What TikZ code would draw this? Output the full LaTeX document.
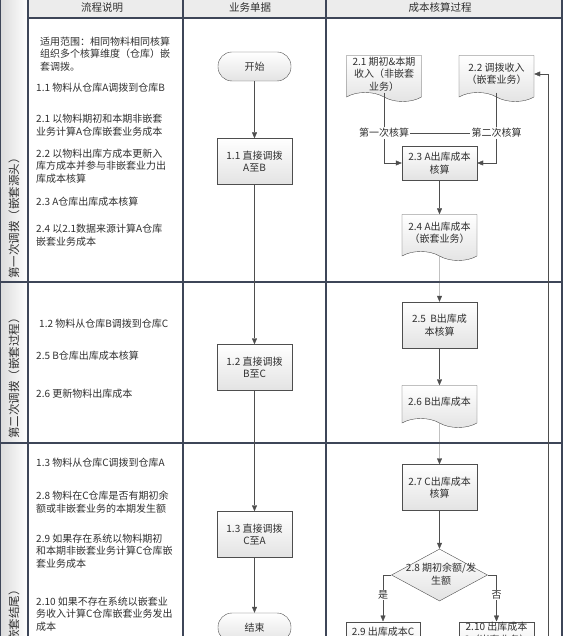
\documentclass[tikz,border=0pt]{standalone}
\usepackage{fontspec}
\setmainfont{Noto Sans CJK SC}
\usetikzlibrary{arrows.meta,shapes.geometric,shapes.symbols}
\definecolor{laneline}{RGB}{62,70,88}
\definecolor{flowline}{RGB}{78,78,78}
\definecolor{txt}{RGB}{48,48,48}
\definecolor{headfill}{RGB}{236,236,236}

\begin{document}
\begin{tikzpicture}[x=1pt,y=-1pt,font=\fontsize{10}{12.5}\selectfont,
  lane/.style={draw=laneline,line width=1.1pt},
  note/.style={anchor=west,align=left,inner sep=0pt,text=txt},
  box/.style={draw=flowline,top color=white,bottom color=gray!22,minimum width=75pt,
    minimum height=46pt,align=center,inner sep=1pt,text=txt},
  doc/.style={tape,tape bend top=none,tape bend bottom=out and in,tape bend height=9pt,
    draw=flowline,top color=white,bottom color=gray!22,minimum width=75pt,
    minimum height=46pt,align=center,inner sep=1pt,text=txt},
  term/.style={draw=flowline,rounded corners=14pt,top color=white,bottom color=gray!22,
    minimum width=73pt,minimum height=29pt,text=txt},
  flow/.style={draw=flowline,-{Triangle[length=6pt,width=5pt]}},
  tag/.style={fill=white,inner sep=1pt,text=txt}]
  \clip (0,0) rectangle (563,636);
  % swimlane background
  \shade[left color=gray!28,right color=white] (0,-20) rectangle (28,720);
  \fill[headfill] (28,-20) rectangle (562,18);
  % swimlane grid
  \draw[lane] (0,-20) rectangle (562,720);
  \draw[lane] (28,18) -- (562,18);
  \foreach \y in {282,443}
    \draw[lane] (0,\y) -- (562,\y);
  \foreach \x in {28,183,326}
    \draw[lane] (\x,-20) -- (\x,720);
  % column heads
  \foreach \x/\t [count=\i] in {102/流程说明, 250/业务单据, 440/成本核算过程}
    \node[font=\fontsize{10.5}{12}\selectfont,text=txt] (head\i) at (\x,7.5) {\t};
  % lane titles
  \foreach \y/\t [count=\i] in {279/第一次调拨（嵌套源头）, 439/第二次调拨（嵌套过程）, 711/第三次调拨（嵌套结尾）}
    \node[rotate=90,anchor=west,inner sep=0pt,text=txt,font=\fontsize{11.5}{12}\selectfont] (lane\i) at (14,\y) {\t};
  % notes
  \foreach \x/\y/\t [count=\i] in {
      40/54/{适用范围：相同物料相同核算\\组织多个核算维度（仓库）嵌\\套调拨。},
      36/88/{1.1 物料从仓库A调拨到仓库B},
      36/125/{2.1 以物料期初和本期非嵌套\\业务计算A仓库嵌套业务成本},
      36/166/{2.2 以物料出库方成本更新入\\库方成本并参与非嵌套业力出\\库成本核算},
      36/202/{2.3 A仓库出库成本核算},
      36/235/{2.4 以2.1数据来源计算A仓库\\嵌套业务成本},
      39/324/{1.2 物料从仓库B调拨到仓库C},
      36/356/{2.5 B仓库出库成本核算},
      36/394/{2.6 更新物料出库成本},
      36/463/{1.3 物料从仓库C调拨到仓库A},
      36/502/{2.8 物料在C仓库是否有期初余\\额或非嵌套业务的本期发生额},
      36/551/{2.9 如果存在系统以物料期初\\和本期非嵌套业务计算C仓库嵌\\套业务成本},
      36/614/{2.10 如果不存在系统以嵌套业\\务收入计算C仓库嵌套业务发出\\成本}}
    \node[note] (note\i) at (\x,\y) {\t};
  % documents
  \node[term] (start) at (254.5,66.5) {开始};
  \node[box] (b11) at (254.5,161.5) {1.1 直接调拨\\A至B};
  \node[box] (b12) at (254.5,367.5) {1.2 直接调拨\\B至C};
  \node[box] (b13) at (254.5,534.5) {1.3 直接调拨\\C至A};
  \node[term] (stop) at (254.5,627.5) {结束};
  % cost calculation
  \node[doc] (d21) at (384,74) {2.1 期初\&本期\\收入（非嵌套\\业务）};
  \node[doc] (d22) at (496.5,74) {2.2 调拨收入\\（嵌套业务）};
  \node[box,minimum height=34pt] (b23) at (439.5,163) {2.3 A出库成本\\核算};
  \node[doc] (d24) at (439.5,233) {2.4 A出库成本\\（嵌套业务）};
  \node[box] (b25) at (439.5,325) {2.5~~B出库成\\本核算};
  \node[doc,minimum height=42pt] (d26) at (439.5,402) {2.6 B出库成本};
  \node[box] (b27) at (439.5,487.5) {2.7 C出库成本\\核算};
  \node[diamond,draw=flowline,top color=white,bottom color=gray!22,minimum width=96pt,
    minimum height=52pt,inner sep=0pt] (d28) at (439.5,575) {};
  \node[text=txt,align=center] (t28) at (441,574) {2.8 期初余额/发\\生额};
  \node[box,anchor=north,minimum width=74pt] (b29) at (383,621.5) {};
  \node[text=txt] (t29) at (383,632) {2.9 出库成本C};
  \node[box,anchor=north] (b210) at (496.5,621.5) {};
  \node[text=txt,align=center] (t210) at (496.5,633.5) {2.10 出库成本\\C（嵌套业务）};
  \coordinate (fb) at (548,74);
  % connectors
  \draw[flow] (start) -- (b11);
  \draw[flow] (b11) -- (b12);
  \draw[flow] (b12) -- (b13);
  \draw[flow] (b13) -- (stop);
  \draw[flow] (d21.south) |- (b23.west);
  \draw[flow] (d22.south) |- (b23.east);
  \node[tag] (k1) at (384,133) {第一次核算};
  \node[tag] (k2) at (496.5,133) {第二次核算};
  \draw[flowline] (k1) -- (k2);
  \draw[flow] (b23) -- (d24);
  \draw[flow] (d24) -- (b25);
  \draw[flow] (b25) -- (d26);
  \draw[flow] (d26) -- (b27);
  \draw[flow] (b27) -- (d28);
  \draw[flow] (d28.west) -| (b29.north);
  \draw[flow] (d28.east) -| (b210.north);
  \node[tag] (yes) at (383,595) {是};
  \node[tag] (no) at (496.5,595) {否};
  \draw[flow] (b210.east) -| (fb) -- (d22.east);
\end{tikzpicture}
\end{document}
